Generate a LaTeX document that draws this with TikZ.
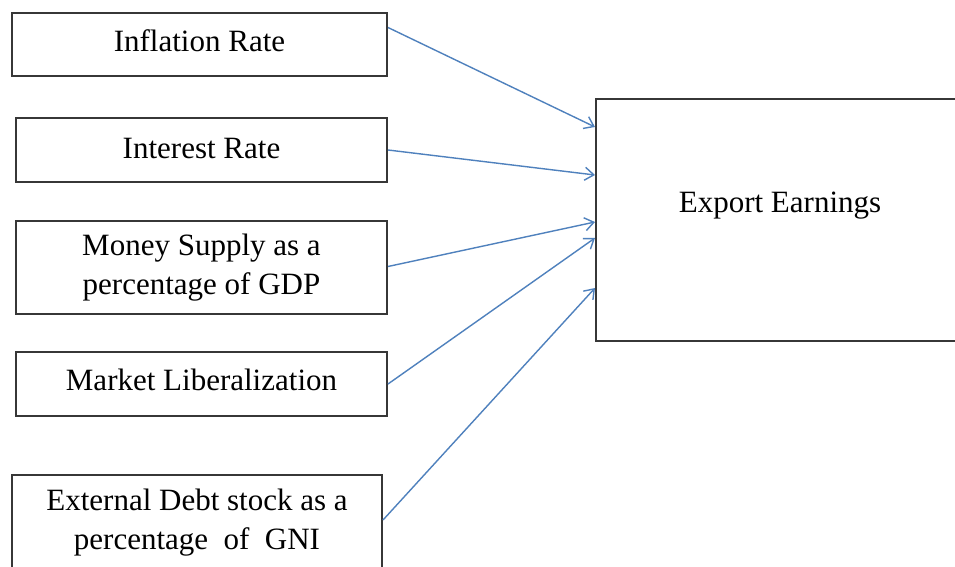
\documentclass[tikz,border=0pt]{standalone}
\usepackage{fontspec}
\setmainfont{Liberation Serif}
\usetikzlibrary{arrows.meta,calc}
\definecolor{arrowblue}{RGB}{79,129,189}
\definecolor{boxgray}{RGB}{55,55,55}
\tikzset{
  varbox/.style={draw=boxgray, line width=2pt, fill=white, inner sep=0pt, align=center,
    font=\fontsize{31}{39}\selectfont},
  lbl/.style={inner sep=0pt, font=\fontsize{31}{39}\selectfont},
  link/.style={draw=arrowblue, line width=1.4pt, -{Straight Barb[length=9pt,width=13pt,line width=1.4pt]}}
}
\begin{document}
\begin{tikzpicture}[x=1pt,y=-1pt]
\useasboundingbox (0,0) rectangle (955,567);
\fill[white] (0,0) rectangle (955,567);
\clip (0,0) rectangle (955,567);
\node[varbox, minimum width=375pt, minimum height=63pt, text depth=8pt] (inf) at (199.5,44.5) {Inflation Rate};
\node[varbox, minimum width=371pt, minimum height=64pt, text depth=4pt] (int) at (201.5,150) {Interest Rate};
\node[varbox, minimum width=371pt, minimum height=93pt] (mon) at (201.5,267.5) {Money Supply as a\\percentage of GDP};
\node[varbox, minimum width=371pt, minimum height=64pt, text depth=8pt] (mkt) at (201.5,384) {Market Liberalization};
\node[varbox, minimum width=370pt, minimum height=96pt] (ext) at (197,523) {External Debt stock as a\\percentage\ \ of\ \ GNI};
\node[varbox, minimum width=368pt, minimum height=242pt] (ee) at (780,220) {};
\node[lbl] (eelbl) at (780,206) {Export Earnings};
\draw[link] ([yshift=17pt]inf.east) -- ([yshift=93pt]ee.west);
\draw[link] (int.east) -- ([yshift=45pt]ee.west);
\draw[link] ([yshift=1pt]mon.east) -- ([yshift=-2pt]ee.west);
\draw[link] (mkt.east) -- ([yshift=-18pt]ee.west);
\draw[link] ([yshift=3pt]ext.east) -- ([yshift=-68pt]ee.west);
\end{tikzpicture}
\end{document}
